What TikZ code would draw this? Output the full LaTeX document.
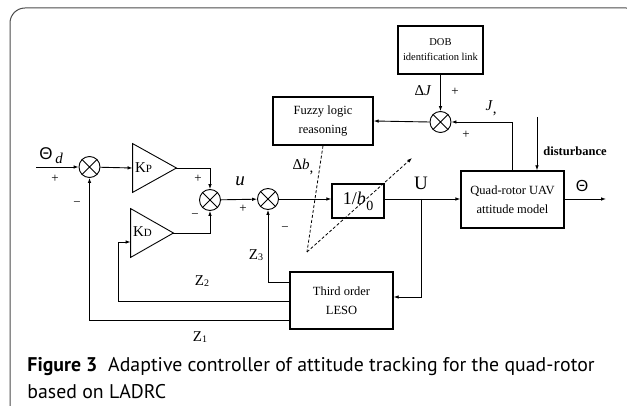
\documentclass[tikz,border=0pt]{standalone}
\usepackage{fontspec}
\setmainfont{Liberation Serif}
\setsansfont{Liberation Sans}
\newfontfamily\capfont{PT Sans}
\usetikzlibrary{arrows.meta,calc}
\begin{document}
\begin{tikzpicture}[x=1pt,y=-1pt,
  line width=0.9pt,
  arr/.style={-{Latex[length=5pt,width=3.6pt]}},
  sum/.style={circle,draw,minimum size=21pt,inner sep=0pt},
  blk/.style={draw,line width=1.4pt,align=center,inner sep=0pt,font=\fontsize{12.5}{19}\selectfont},
  lbl/.style={inner sep=0pt},
  dsh/.style={dash pattern=on 3pt off 2pt,line width=0.8pt}
]
\useasboundingbox (0,0) rectangle (627,406);
\clip (0,0) rectangle (627,406);
% frame
\draw[black!70,line width=1pt,rounded corners=15pt] (10,420) -- (10,8) -- (641,8) -- (641,420);

% blocks
\node[blk,minimum width=100pt,minimum height=48pt] (fuzzy) at (323,121) {Fuzzy logic\\reasoning};
\node[blk,minimum width=85pt,minimum height=48pt,font=\fontsize{10.5}{15}\selectfont] (dob) at (440.5,50) {DOB\\identification link};
\node[blk,minimum width=52pt,minimum height=34pt,font=\fontsize{18}{18}\selectfont] (b0) at (358,201) {1/\textit{b}\kern0.5pt\raisebox{-6pt}{\fontsize{14}{14}\selectfont 0}};
\node[blk,minimum width=103pt,minimum height=57pt] (quad) at (512.5,199.5) {Quad-rotor UAV\\attitude model};
\node[blk,minimum width=103pt,minimum height=57pt] (leso) at (341.5,300.5) {Third order\\LESO};

% gains (triangles)
\node[minimum width=43pt,minimum height=48pt,inner sep=0pt] (kp) at (154.5,168) {};
\node[minimum width=42pt,minimum height=48pt,inner sep=0pt] (kd) at (152,233) {};
\draw (kp.north west) -- (kp.east) -- (kp.south west) -- cycle;
\draw (kd.north west) -- (kd.east) -- (kd.south west) -- cycle;
\node[lbl,font=\fontsize{15}{15}\selectfont,anchor=west] at ($(kp.west)+(2,0)$) {K{\fontsize{11}{11}\selectfont P}};
\node[lbl,font=\fontsize{15}{15}\selectfont,anchor=west] at ($(kd.west)+(2,-1)$) {K{\fontsize{11}{11}\selectfont D}};

% summing junctions
\node[sum] (s1) at (89.5,167) {};
\node[sum] (s2) at (210,200) {};
\node[sum] (s3) at (268,199) {};
\node[sum] (s4) at (440.5,122) {};
\foreach \n in {s1,s2,s3,s4}
  \draw (\n.north west) -- (\n.south east) (\n.north east) -- (\n.south west);

% coordinates
\coordinate (in) at (36,167);
\coordinate (out) at (606,199);
\coordinate (dist) at (537,117);
\coordinate (ub) at (421,199);
\coordinate (z2c) at (118,242);
\coordinate (kdin) at ($(kd.west)+(0,9)$);
\coordinate (dv) at (307,252);
\coordinate (dtip) at (412,158);

% connectors
\draw[arr] (in) -- (s1);
\draw[arr] (s1) -- (kp.west);
\draw[arr] (kp.east) -| (s2.north);
\draw[arr] (kd.east) -| (s2.south);
\draw[arr] (s2) -- (s3);
\draw[arr] (s3) -- (s3 -| b0.west);
\draw[arr] (b0.east |- s3) -- (s3 -| quad.west);
\draw[arr] (s3 -| quad.east) -- (out);
\draw[arr] (dist) -- (dist |- quad.north);
\draw[arr] (quad.north) |- (s4.east);
\draw[arr] (dob.south) -- (s4.north);
\draw[arr] (s4.west) -- (fuzzy.east);
\draw[arr] (ub) |- ([yshift=3.5pt]leso.east);
\draw[arr] ([yshift=18.5pt]leso.west) -| (s3.south);
\draw[arr] ([yshift=-0.5pt]leso.west) -| (z2c) -- (kdin);
\draw[arr] ([yshift=-19.5pt]leso.west) -| (s1.south);
\draw[dsh] (fuzzy.south) -- (dv);
\draw[dsh,arr] (dv) -- (dtip);

% labels
\node[lbl,font=\fontsize{17}{17}\sffamily] at (46,154) {Θ};
\node[lbl,font=\fontsize{15}{15}\selectfont\itshape] at (59,158) {d};
\node[lbl,font=\fontsize{13}{13}\selectfont] at (55,179) {+};
\node[lbl,font=\fontsize{13}{13}\selectfont] at (77,204) {−};
\node[lbl,font=\fontsize{13}{13}\selectfont] at (198,179) {+};
\node[lbl,font=\fontsize{13}{13}\selectfont] at (195,216) {−};
\node[lbl,font=\fontsize{19}{19}\selectfont\itshape] at (240,181) {u};
\node[lbl,font=\fontsize{13}{13}\selectfont] at (243,209) {+};
\node[lbl,font=\fontsize{13}{13}\selectfont] at (285,229) {−};
\node[lbl,font=\fontsize{15}{15}\selectfont] at (256,255) {Z\raisebox{-1.5pt}{\fontsize{10}{10}\selectfont 3}};
\node[lbl,font=\fontsize{15}{15}\selectfont] at (202,281) {Z\raisebox{-1.5pt}{\fontsize{10}{10}\selectfont 2}};
\node[lbl,font=\fontsize{15}{15}\selectfont] at (200,337) {Z\raisebox{-1.5pt}{\fontsize{10}{10}\selectfont 1}};
\node[lbl,font=\fontsize{15}{15}\selectfont] at (303,167) {Δ\textit{b}\raisebox{-3pt}{,}};
\node[lbl,font=\fontsize{19}{19}\selectfont] at (421,183) {U};
\node[lbl,font=\fontsize{15}{15}\selectfont] at (423,91) {Δ\textit{J}};
\node[lbl,font=\fontsize{13}{13}\selectfont] at (455,92) {+};
\node[lbl,font=\fontsize{15}{15}\selectfont] at (491,108) {\textit{J}\raisebox{-3pt}{,}};
\node[lbl,font=\fontsize{13}{13}\selectfont] at (466,135) {+};
\node[lbl,font=\fontsize{12.5}{12.5}\selectfont\bfseries,anchor=west] at (543,151) {disturbance};
\node[lbl,font=\fontsize{16}{16}\sffamily] at (582,186) {Θ};

% caption
\node[lbl,anchor=base west,font=\fontsize{19.8}{20}\capfont] (cap1) at (27,371) {\textbf{Figure 3}\hspace{0.55em}Adaptive controller of attitude tracking for the quad-rotor};
\node[lbl,anchor=base west,font=\fontsize{19.8}{20}\capfont] (cap2) at (27,398) {based on LADRC};
\end{tikzpicture}
\end{document}
